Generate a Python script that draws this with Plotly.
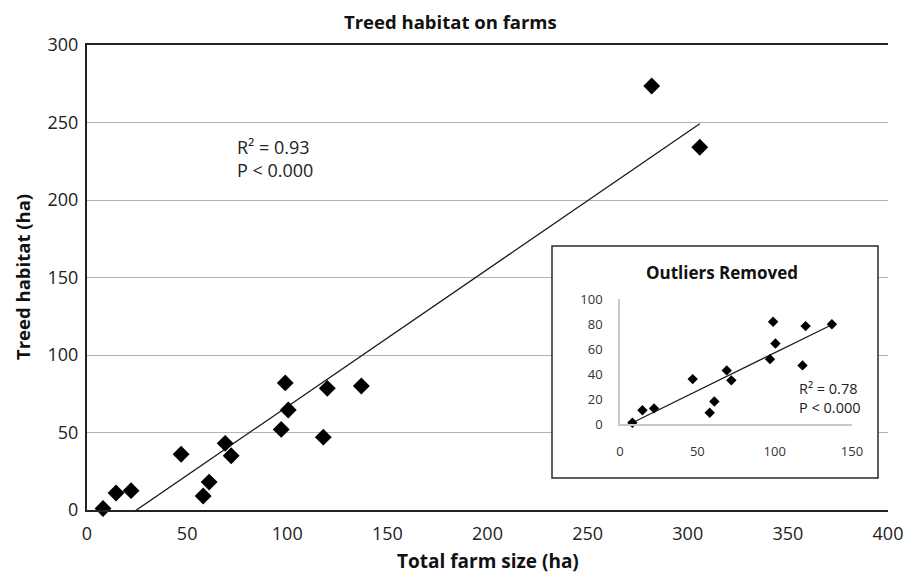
import numpy as np
import plotly.graph_objects as go

# Farm survey: total farm size vs treed habitat (ha)
farm_size = [8, 14.5, 22, 47, 58, 61, 69, 72, 97, 99, 100.5, 118, 120, 137, 282, 306]
treed = [1, 11, 12.5, 36, 9, 18, 43, 35, 52, 82, 64.5, 47, 78.5, 80, 273.5, 234]

# Same farms without the two large outliers
farm_size_trim = farm_size[:14]
treed_trim = treed[:14]

main_x_ticks = [0, 50, 100, 150, 200, 250, 300, 350, 400]
main_y_ticks = [0, 50, 100, 150, 200, 250, 300]
inset_x_ticks = [0, 50, 100, 150]
inset_y_ticks = [0, 20, 40, 60, 80, 100]

FONT = "Open Sans"

# Least-squares trend lines
m_all, b_all = np.polyfit(farm_size, treed, 1)
m_trim, b_trim = np.polyfit(farm_size_trim, treed_trim, 1)
fx_all = np.array([min(farm_size), max(farm_size)])
fx_trim = np.array([min(farm_size_trim), max(farm_size_trim)])

fig = go.Figure()

fig.add_trace(go.Scatter(
    x=fx_all, y=m_all * fx_all + b_all, mode="lines",
    line=dict(color="#1a1a1a", width=1.3), showlegend=False, hoverinfo="skip"))
fig.add_trace(go.Scatter(
    x=farm_size, y=treed, mode="markers", cliponaxis=False,
    marker=dict(symbol="diamond", size=13, color="black"),
    showlegend=False))

# Blank panel behind the inset (covers the main gridlines)
fig.add_trace(go.Scatter(x=[], y=[], xaxis="x2", yaxis="y2",
                         showlegend=False, hoverinfo="skip"))

# Inset: outliers removed
fig.add_trace(go.Scatter(
    x=fx_trim, y=m_trim * fx_trim + b_trim, mode="lines", xaxis="x3", yaxis="y3",
    line=dict(color="#1a1a1a", width=1.2), showlegend=False, hoverinfo="skip"))
fig.add_trace(go.Scatter(
    x=farm_size_trim, y=treed_trim, mode="markers", xaxis="x3", yaxis="y3",
    cliponaxis=False, marker=dict(symbol="diamond", size=8, color="black"),
    showlegend=False))

W, H = 905, 573
L, R, T, B = 87, 17, 45, 63
pw, ph = W - L - R, H - T - B


def px_x(p):
    return (p - L) / pw


def px_y(p):
    return (H - B - p) / ph


tick_font = dict(family=FONT, size=18, color="#222")
inset_tick_font = dict(family=FONT, size=13, color="#333")

fig.update_layout(
    width=W, height=H,
    margin=dict(l=L, r=R, t=T, b=B, autoexpand=False),
    paper_bgcolor="white", plot_bgcolor="white",
    font=dict(family=FONT, color="#111"),
    xaxis=dict(range=[0, 400], tickvals=main_x_ticks, showgrid=False,
               showline=True, linecolor="#222", linewidth=2, mirror=True,
               ticks="", tickfont=tick_font, ticklabelstandoff=6,
               zeroline=False, fixedrange=True, automargin=False),
    yaxis=dict(range=[0, 300], tickvals=main_y_ticks, showgrid=True,
               gridcolor="#b4b4b4", gridwidth=1,
               showline=True, linecolor="#222", linewidth=2,
               ticks="", tickfont=tick_font, ticklabelstandoff=3,
               zeroline=False, fixedrange=True, automargin=False),
    xaxis2=dict(domain=[px_x(552), px_x(878)], anchor="y2", visible=False,
                range=[0, 1], fixedrange=True, automargin=False),
    yaxis2=dict(domain=[px_y(478), px_y(246)], anchor="x2", visible=False,
                range=[0, 1], fixedrange=True, automargin=False),
    xaxis3=dict(domain=[px_x(620), px_x(852)], anchor="y3", range=[0, 150],
                tickvals=inset_x_ticks, showgrid=False, showline=True,
                linecolor="#c8c8c8", linewidth=1.5, ticks="", zeroline=False,
                tickfont=inset_tick_font, ticklabelstandoff=15,
                fixedrange=True, automargin=False),
    yaxis3=dict(domain=[px_y(424), px_y(299.3)], anchor="x3", range=[0, 100],
                tickvals=inset_y_ticks, showgrid=False, showline=True,
                linecolor="#c8c8c8", linewidth=1.5, ticks="", zeroline=False,
                tickfont=inset_tick_font, ticklabelstandoff=13,
                fixedrange=True, automargin=False),
    shapes=[dict(type="rect", xref="paper", yref="paper",
                 x0=px_x(552), x1=px_x(878), y0=px_y(478), y1=px_y(246),
                 line=dict(color="#2a2a2a", width=1.5), fillcolor="rgba(0,0,0,0)",
                 layer="above")],
    annotations=[
        dict(text="<b>Treed habitat on farms</b>", xref="paper", yref="paper",
             x=px_x(450), y=px_y(21), xanchor="center", yanchor="middle",
             showarrow=False, font=dict(family=FONT, size=18.5, color="#111")),
        dict(text="<b>Total farm size (ha)</b>", xref="paper", yref="paper",
             x=px_x(488), y=px_y(561), xanchor="center", yanchor="middle",
             showarrow=False, font=dict(family=FONT, size=19, color="#111")),
        dict(text="<b>Treed habitat (ha)</b>", xref="paper", yref="paper",
             x=px_x(22), y=px_y(277), xanchor="center", yanchor="middle",
             showarrow=False, textangle=-90,
             font=dict(family=FONT, size=18.5, color="#111")),
        dict(text="R² = 0.93<br>P < 0.000", xref="paper", yref="paper",
             x=px_x(235), y=px_y(158.5), xanchor="left", yanchor="middle",
             align="left", showarrow=False,
             font=dict(family=FONT, size=18, color="#222")),
        dict(text="<b>Outliers Removed</b>", xref="paper", yref="paper",
             x=px_x(722), y=px_y(272), xanchor="center", yanchor="middle",
             showarrow=False, font=dict(family=FONT, size=17, color="#111")),
        dict(text="R² = 0.78<br>P < 0.000", xref="paper", yref="paper",
             x=px_x(797), y=px_y(397.5), xanchor="left", yanchor="middle",
             align="left", showarrow=False,
             font=dict(family=FONT, size=14.5, color="#222")),
    ],
)

fig.write_html("out.html")
